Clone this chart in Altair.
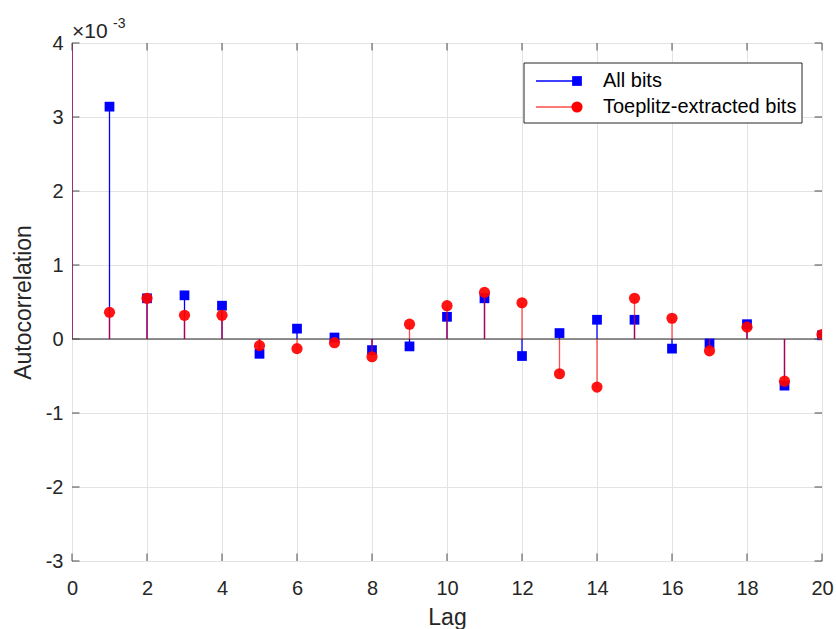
import altair as alt
import pandas as pd

# Autocorrelation values in units of 1e-3 (axis shows x10^-3); lag 0 = 1 (i.e. 1000e-3), clipped
lags = list(range(0, 21))
all_bits = [1000, 3.14, 0.55, 0.59, 0.45, -0.20, 0.14, 0.02, -0.15, -0.10, 0.30,
            0.55, -0.23, 0.08, 0.26, 0.26, -0.13, -0.06, 0.20, -0.63, 0.05]
toeplitz_bits = [1000, 0.36, 0.55, 0.32, 0.32, -0.09, -0.13, -0.05, -0.24, 0.20, 0.45,
                 0.63, 0.49, -0.47, -0.65, 0.55, 0.28, -0.16, 0.16, -0.57, 0.06]
x_ticks = list(range(0, 21, 2))
y_ticks = list(range(-3, 5))
series_names = ["All bits", "Toeplitz-extracted bits"]

FONT = "Liberation Sans"
TXT = "#262626"
W, H = 750, 518
TL = 7.5
SW = 1.3

df_all = pd.DataFrame({"lag": lags, "v": all_bits})
df_toe = pd.DataFrame({"lag": lags, "v": toeplitz_bits})
dfx = pd.DataFrame({"t": x_ticks})
dfy = pd.DataFrame({"t": y_ticks})
one = pd.DataFrame({"a": [0]})

xs = alt.Scale(domain=[0, 20], nice=False, zero=False)
ys = alt.Scale(domain=[-3, 4], nice=False, zero=False)

xaxis = alt.Axis(values=x_ticks, ticks=False, domain=False, grid=True, gridColor="#e3e3e3",
                 gridWidth=1, labelFont=FONT, labelFontSize=20, labelColor=TXT,
                 labelPadding=17, title="Lag", titleFont=FONT, titleFontSize=23,
                 titleFontWeight="normal", titleColor=TXT, titlePadding=8, labelFlush=False)
yaxis = alt.Axis(values=y_ticks, ticks=False, domain=False, grid=True, gridColor="#e3e3e3",
                 gridWidth=1, labelFont=FONT, labelFontSize=20, labelColor=TXT,
                 labelPadding=9, title="Autocorrelation", titleFont=FONT, titleFontSize=23,
                 titleFontWeight="normal", titleColor=TXT, titlePadding=10, labelFlush=False,
                 labelExpr="datum.value < 0 ? '-' + (-datum.value) : '' + datum.value")

base_axes = alt.Chart(dfx).mark_point(opacity=0).encode(
    x=alt.X("t:Q", scale=xs, axis=xaxis),
    y=alt.Y("t:Q", scale=ys, axis=yaxis),
)

blue_stems = alt.Chart(df_all).mark_rule(color="#0000ff", strokeWidth=SW, clip=True).encode(
    x=alt.X("lag:Q", scale=xs), y=alt.Y("v:Q", scale=ys), y2=alt.datum(0))
blue_pts = alt.Chart(df_all).mark_point(shape="square", filled=True, color="#0000ff",
                                        size=95, opacity=1, clip=True).encode(
    x=alt.X("lag:Q", scale=xs), y=alt.Y("v:Q", scale=ys))
red_stems = alt.Chart(df_toe).mark_rule(color="#ff0000", strokeWidth=SW, opacity=0.7, clip=True).encode(
    x=alt.X("lag:Q", scale=xs), y=alt.Y("v:Q", scale=ys), y2=alt.datum(0))
red_pts = alt.Chart(df_toe).mark_point(shape="circle", filled=True, color="#ff0000",
                                       size=125, opacity=0.92, clip=True).encode(
    x=alt.X("lag:Q", scale=xs), y=alt.Y("v:Q", scale=ys))
baseline = alt.Chart(one).mark_rule(color="#262626", strokeWidth=1).encode(
    y=alt.Y(datum=0, scale=ys), x=alt.value(0), x2=alt.value(W))

tick_col = "#4d4d4d"
xt_bot = alt.Chart(dfx).mark_rule(color=tick_col, strokeWidth=1).encode(
    x=alt.X("t:Q", scale=xs), y=alt.value(H), y2=alt.value(H - TL))
xt_top = alt.Chart(dfx).mark_rule(color=tick_col, strokeWidth=1).encode(
    x=alt.X("t:Q", scale=xs), y=alt.value(0), y2=alt.value(TL))
yt_left = alt.Chart(dfy).mark_rule(color=tick_col, strokeWidth=1).encode(
    y=alt.Y("t:Q", scale=ys), x=alt.value(0), x2=alt.value(TL))
yt_right = alt.Chart(dfy).mark_rule(color=tick_col, strokeWidth=1).encode(
    y=alt.Y("t:Q", scale=ys), x=alt.value(W), x2=alt.value(W - TL))

# Legend
leg_box = alt.Chart(one).mark_rect(fill="white", stroke="#262626", strokeWidth=1).encode(
    x=alt.value(452), x2=alt.value(730), y=alt.value(20), y2=alt.value(80))
leg_l1 = alt.Chart(one).mark_rule(color="#0000ff", strokeWidth=SW).encode(
    x=alt.value(464), x2=alt.value(505), y=alt.value(38))
leg_l2 = alt.Chart(one).mark_rule(color="#ff0000", strokeWidth=SW, opacity=0.7).encode(
    x=alt.value(464), x2=alt.value(505), y=alt.value(64))
leg_p1 = alt.Chart(one).mark_point(shape="square", filled=True, color="#0000ff", size=95, opacity=1).encode(
    x=alt.value(505), y=alt.value(38))
leg_p2 = alt.Chart(one).mark_point(shape="circle", filled=True, color="#ff0000", size=125, opacity=1).encode(
    x=alt.value(505), y=alt.value(64))
leg_t1 = alt.Chart(one).mark_text(align="left", baseline="middle", font=FONT, fontSize=20,
                                  color="black", text=series_names[0]).encode(
    x=alt.value(531), y=alt.value(38))
leg_t2 = alt.Chart(one).mark_text(align="left", baseline="middle", font=FONT, fontSize=20,
                                  color="black", text=series_names[1]).encode(
    x=alt.value(531), y=alt.value(64))

exp_a = alt.Chart(one).mark_text(align="left", baseline="alphabetic", font=FONT, fontSize=21,
                                 color=TXT, text="×10").encode(x=alt.value(0), y=alt.value(-5))
exp_b = alt.Chart(one).mark_text(align="left", baseline="alphabetic", font=FONT, fontSize=14,
                                 color=TXT, text="-3").encode(x=alt.value(41), y=alt.value(-15))

chart = alt.layer(
    base_axes, blue_stems, baseline, blue_pts, red_stems, red_pts,
    xt_bot, xt_top, yt_left, yt_right,
    leg_box, leg_l1, leg_l2, leg_p1, leg_p2, leg_t1, leg_t2, exp_a, exp_b,
).properties(
    width=W, height=H,
    autosize=alt.AutoSizeParams(type="none"),
    padding={"left": 72, "top": 43, "right": 14, "bottom": 68},
).configure_view(stroke="#4d4d4d", strokeWidth=1).configure(background="white")

chart.save("out.html", embed_options={"renderer": "svg", "actions": False})
